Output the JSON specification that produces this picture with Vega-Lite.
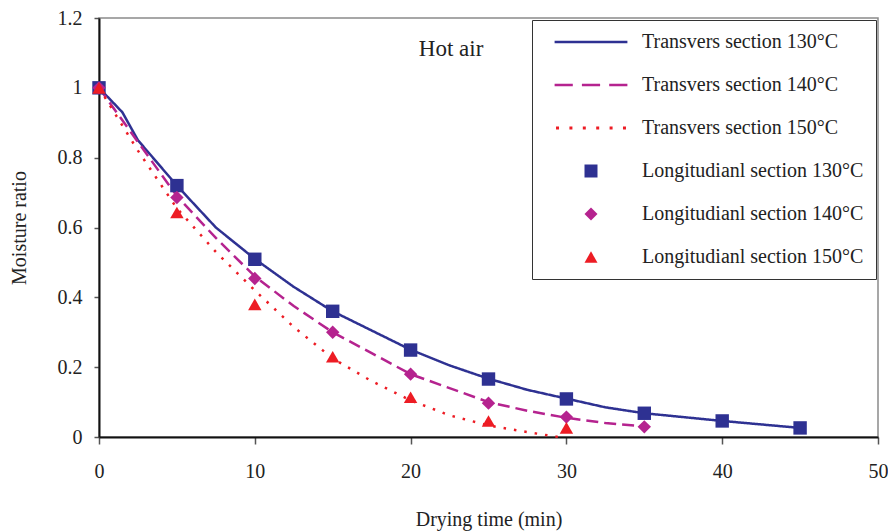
{
  "$schema": "https://vega.github.io/schema/vega-lite/v6.json",
  "width": 888,
  "height": 532,
  "autosize": {"type": "fit", "contains": "padding"},
  "padding": {"left": 9, "right": 0, "top": 8, "bottom": 3},
  "background": "white",
  "config": {
    "font": "Liberation Serif",
    "view": {"stroke": "#8a8a8a", "strokeWidth": 1.5},
    "axis": {
      "grid": false,
      "domainColor": "#111",
      "domainWidth": 2,
      "tickColor": "#555",
      "tickWidth": 1.5,
      "labelFlush": false,
      "labelFont": "Liberation Serif",
      "labelFontSize": 20,
      "labelColor": "#222",
      "titleFont": "Liberation Serif",
      "titleFontSize": 20,
      "titleFontWeight": "normal",
      "titleColor": "#222"
    },
    "legend": {
      "labelFont": "Liberation Serif",
      "labelFontSize": 20,
      "labelColor": "#222",
      "labelLimit": 400
    }
  },
  "datasets": {
    "curves": [
      {"series": "Transvers section 130°C", "kind": "line", "t": 0, "mr": 1},
      {"series": "Transvers section 130°C", "kind": "line", "t": 1.5, "mr": 0.93},
      {"series": "Transvers section 130°C", "kind": "line", "t": 2.5, "mr": 0.85},
      {"series": "Transvers section 130°C", "kind": "line", "t": 5, "mr": 0.72},
      {"series": "Transvers section 130°C", "kind": "line", "t": 7.5, "mr": 0.6},
      {"series": "Transvers section 130°C", "kind": "line", "t": 10, "mr": 0.51},
      {"series": "Transvers section 130°C", "kind": "line", "t": 12.5, "mr": 0.43},
      {"series": "Transvers section 130°C", "kind": "line", "t": 15, "mr": 0.36},
      {"series": "Transvers section 130°C", "kind": "line", "t": 17.5, "mr": 0.305},
      {"series": "Transvers section 130°C", "kind": "line", "t": 20, "mr": 0.25},
      {"series": "Transvers section 130°C", "kind": "line", "t": 22.5, "mr": 0.205},
      {"series": "Transvers section 130°C", "kind": "line", "t": 25, "mr": 0.167},
      {"series": "Transvers section 130°C", "kind": "line", "t": 27.5, "mr": 0.135},
      {"series": "Transvers section 130°C", "kind": "line", "t": 30, "mr": 0.11},
      {"series": "Transvers section 130°C", "kind": "line", "t": 32.5, "mr": 0.085},
      {"series": "Transvers section 130°C", "kind": "line", "t": 35, "mr": 0.068},
      {"series": "Transvers section 130°C", "kind": "line", "t": 37.5, "mr": 0.057},
      {"series": "Transvers section 130°C", "kind": "line", "t": 40, "mr": 0.046},
      {"series": "Transvers section 130°C", "kind": "line", "t": 42.5, "mr": 0.036},
      {"series": "Transvers section 130°C", "kind": "line", "t": 45, "mr": 0.026},

      {"series": "Transvers section 140°C", "kind": "line", "t": 0, "mr": 1},
      {"series": "Transvers section 140°C", "kind": "line", "t": 2.5, "mr": 0.845},
      {"series": "Transvers section 140°C", "kind": "line", "t": 5, "mr": 0.69},
      {"series": "Transvers section 140°C", "kind": "line", "t": 7.5, "mr": 0.57},
      {"series": "Transvers section 140°C", "kind": "line", "t": 10, "mr": 0.46},
      {"series": "Transvers section 140°C", "kind": "line", "t": 12.5, "mr": 0.375},
      {"series": "Transvers section 140°C", "kind": "line", "t": 15, "mr": 0.3},
      {"series": "Transvers section 140°C", "kind": "line", "t": 17.5, "mr": 0.24},
      {"series": "Transvers section 140°C", "kind": "line", "t": 20, "mr": 0.18},
      {"series": "Transvers section 140°C", "kind": "line", "t": 22.5, "mr": 0.14},
      {"series": "Transvers section 140°C", "kind": "line", "t": 25, "mr": 0.1},
      {"series": "Transvers section 140°C", "kind": "line", "t": 27.5, "mr": 0.075},
      {"series": "Transvers section 140°C", "kind": "line", "t": 30, "mr": 0.055},
      {"series": "Transvers section 140°C", "kind": "line", "t": 32.5, "mr": 0.04},
      {"series": "Transvers section 140°C", "kind": "line", "t": 35, "mr": 0.03},

      {"series": "Transvers section 150°C", "kind": "line", "t": 0, "mr": 1},
      {"series": "Transvers section 150°C", "kind": "line", "t": 2.5, "mr": 0.82},
      {"series": "Transvers section 150°C", "kind": "line", "t": 5, "mr": 0.655},
      {"series": "Transvers section 150°C", "kind": "line", "t": 7.5, "mr": 0.53},
      {"series": "Transvers section 150°C", "kind": "line", "t": 10, "mr": 0.42},
      {"series": "Transvers section 150°C", "kind": "line", "t": 12.5, "mr": 0.315},
      {"series": "Transvers section 150°C", "kind": "line", "t": 15, "mr": 0.225},
      {"series": "Transvers section 150°C", "kind": "line", "t": 17.5, "mr": 0.16},
      {"series": "Transvers section 150°C", "kind": "line", "t": 20, "mr": 0.105},
      {"series": "Transvers section 150°C", "kind": "line", "t": 22.5, "mr": 0.062},
      {"series": "Transvers section 150°C", "kind": "line", "t": 25, "mr": 0.033},
      {"series": "Transvers section 150°C", "kind": "line", "t": 27.5, "mr": 0.014},
      {"series": "Transvers section 150°C", "kind": "line", "t": 29.5, "mr": 0},

      {"series": "Longitudianl section 130°C", "kind": "point", "t": 0, "mr": 1},
      {"series": "Longitudianl section 130°C", "kind": "point", "t": 5, "mr": 0.72},
      {"series": "Longitudianl section 130°C", "kind": "point", "t": 10, "mr": 0.509},
      {"series": "Longitudianl section 130°C", "kind": "point", "t": 15, "mr": 0.36},
      {"series": "Longitudianl section 130°C", "kind": "point", "t": 20, "mr": 0.249},
      {"series": "Longitudianl section 130°C", "kind": "point", "t": 25, "mr": 0.166},
      {"series": "Longitudianl section 130°C", "kind": "point", "t": 30, "mr": 0.109},
      {"series": "Longitudianl section 130°C", "kind": "point", "t": 35, "mr": 0.068},
      {"series": "Longitudianl section 130°C", "kind": "point", "t": 40, "mr": 0.046},
      {"series": "Longitudianl section 130°C", "kind": "point", "t": 45, "mr": 0.026},

      {"series": "Longitudianl section 140°C", "kind": "point", "t": 0, "mr": 1},
      {"series": "Longitudianl section 140°C", "kind": "point", "t": 5, "mr": 0.686},
      {"series": "Longitudianl section 140°C", "kind": "point", "t": 10, "mr": 0.454},
      {"series": "Longitudianl section 140°C", "kind": "point", "t": 15, "mr": 0.3},
      {"series": "Longitudianl section 140°C", "kind": "point", "t": 20, "mr": 0.18},
      {"series": "Longitudianl section 140°C", "kind": "point", "t": 25, "mr": 0.097},
      {"series": "Longitudianl section 140°C", "kind": "point", "t": 30, "mr": 0.057},
      {"series": "Longitudianl section 140°C", "kind": "point", "t": 35, "mr": 0.029},

      {"series": "Longitudianl section 150°C", "kind": "point", "t": 0, "mr": 1},
      {"series": "Longitudianl section 150°C", "kind": "point", "t": 5, "mr": 0.643},
      {"series": "Longitudianl section 150°C", "kind": "point", "t": 10, "mr": 0.38},
      {"series": "Longitudianl section 150°C", "kind": "point", "t": 15, "mr": 0.23},
      {"series": "Longitudianl section 150°C", "kind": "point", "t": 20, "mr": 0.114},
      {"series": "Longitudianl section 150°C", "kind": "point", "t": 25, "mr": 0.046},
      {"series": "Longitudianl section 150°C", "kind": "point", "t": 30, "mr": 0.026}
    ],
    "notes": [
      {"t": 22.6, "mr": 1.11, "label": "Hot air"}
    ]
  },
  "layer": [
    {
      "data": {"name": "curves"},
      "transform": [{"filter": "datum.kind === 'line'"}],
      "mark": {"type": "line", "strokeWidth": 2.5, "strokeCap": "butt"},
      "encoding": {
        "x": {
          "field": "t", "type": "quantitative",
          "scale": {"domain": [0, 50], "nice": false},
          "axis": {"values": [0, 10, 20, 30, 40, 50], "title": "Drying time (min)", "tickSize": 7, "labelPadding": 17, "titlePadding": 28}
        },
        "y": {
          "field": "mr", "type": "quantitative",
          "scale": {"domain": [0, 1.2], "nice": false},
          "axis": {"values": [0, 0.2, 0.4, 0.6, 0.8, 1, 1.2], "format": ".1~f", "title": "Moisture ratio", "tickSize": 5, "labelPadding": 12, "titlePadding": 28}
        },
        "color": {
          "field": "series", "type": "nominal",
          "scale": {
            "domain": ["Transvers section 130°C", "Transvers section 140°C", "Transvers section 150°C", "Longitudianl section 130°C", "Longitudianl section 140°C", "Longitudianl section 150°C"],
            "range": ["#2e3192", "#b5238f", "#ed1c24", "#2e3192", "#b5238f", "#ed1c24"]
          },
          "legend": {
            "title": null,
            "orient": "top-right",
            "offset": 2,
            "padding": 12,
            "strokeColor": "#333",
            "fillColor": "white",
            "symbolSize": 169,
            "symbolOffset": 37,
            "labelOffset": 41,
            "rowPadding": 23,
            "symbolStrokeWidth": 0,
            "encode": {"symbols": {"update": {"fill": {"scale": "color", "field": "value"}, "stroke": {"value": "transparent"}, "strokeWidth": {"value": 0}}}}
          }
        },
        "strokeDash": {
          "field": "series", "type": "nominal",
          "scale": {
            "domain": ["Transvers section 130°C", "Transvers section 140°C", "Transvers section 150°C", "Longitudianl section 130°C", "Longitudianl section 140°C", "Longitudianl section 150°C"],
            "range": [[1, 0], [12, 6], [2.5, 8], [1, 0], [1, 0], [1, 0]]
          },
          "legend": null
        },
        "order": {"field": "t", "type": "quantitative"}
      }
    },
    {
      "data": {"name": "curves"},
      "transform": [{"filter": "datum.kind === 'point'"}],
      "mark": {"type": "point", "filled": true, "opacity": 1, "size": 180, "strokeWidth": 0},
      "encoding": {
        "x": {"field": "t", "type": "quantitative"},
        "y": {"field": "mr", "type": "quantitative"},
        "color": {"field": "series", "type": "nominal"},
        "shape": {
          "field": "series", "type": "nominal",
          "scale": {
            "domain": ["Transvers section 130°C", "Transvers section 140°C", "Transvers section 150°C", "Longitudianl section 130°C", "Longitudianl section 140°C", "Longitudianl section 150°C"],
            "range": [
              "M-5.6,-0.19L5.6,-0.19L5.6,0.19L-5.6,0.19Z",
              "M-5.6,-0.19L-2.8,-0.19L-2.8,0.19L-5.6,0.19ZM-1.4,-0.19L1.4,-0.19L1.4,0.19L-1.4,0.19ZM2.8,-0.19L5.6,-0.19L5.6,0.19L2.8,0.19Z",
              "M-5.38,-0.22L-4.92,-0.22L-4.92,0.22L-5.38,0.22ZM-3.32,-0.22L-2.86,-0.22L-2.86,0.22L-3.32,0.22ZM-1.26,-0.22L-0.8,-0.22L-0.8,0.22L-1.26,0.22ZM0.8,-0.22L1.26,-0.22L1.26,0.22L0.8,0.22ZM2.86,-0.22L3.32,-0.22L3.32,0.22L2.86,0.22ZM4.92,-0.22L5.38,-0.22L5.38,0.22L4.92,0.22Z",
              "square", "diamond", "triangle-up"
            ]
          },
          "legend": {
            "title": null,
            "orient": "top-right",
            "offset": 2,
            "padding": 12,
            "strokeColor": "#333",
            "fillColor": "white",
            "symbolSize": 169,
            "symbolOffset": 37,
            "labelOffset": 41,
            "rowPadding": 23,
            "symbolStrokeWidth": 0,
            "encode": {"symbols": {"update": {"fill": {"scale": "color", "field": "value"}, "stroke": {"value": "transparent"}, "strokeWidth": {"value": 0}}}}
          }
        }
      }
    },
    {
      "data": {"name": "notes"},
      "mark": {"type": "text", "font": "Liberation Serif", "fontSize": 23, "color": "#222", "align": "center", "baseline": "middle"},
      "encoding": {
        "x": {"field": "t", "type": "quantitative"},
        "y": {"field": "mr", "type": "quantitative"},
        "text": {"field": "label"}
      }
    }
  ]
}
